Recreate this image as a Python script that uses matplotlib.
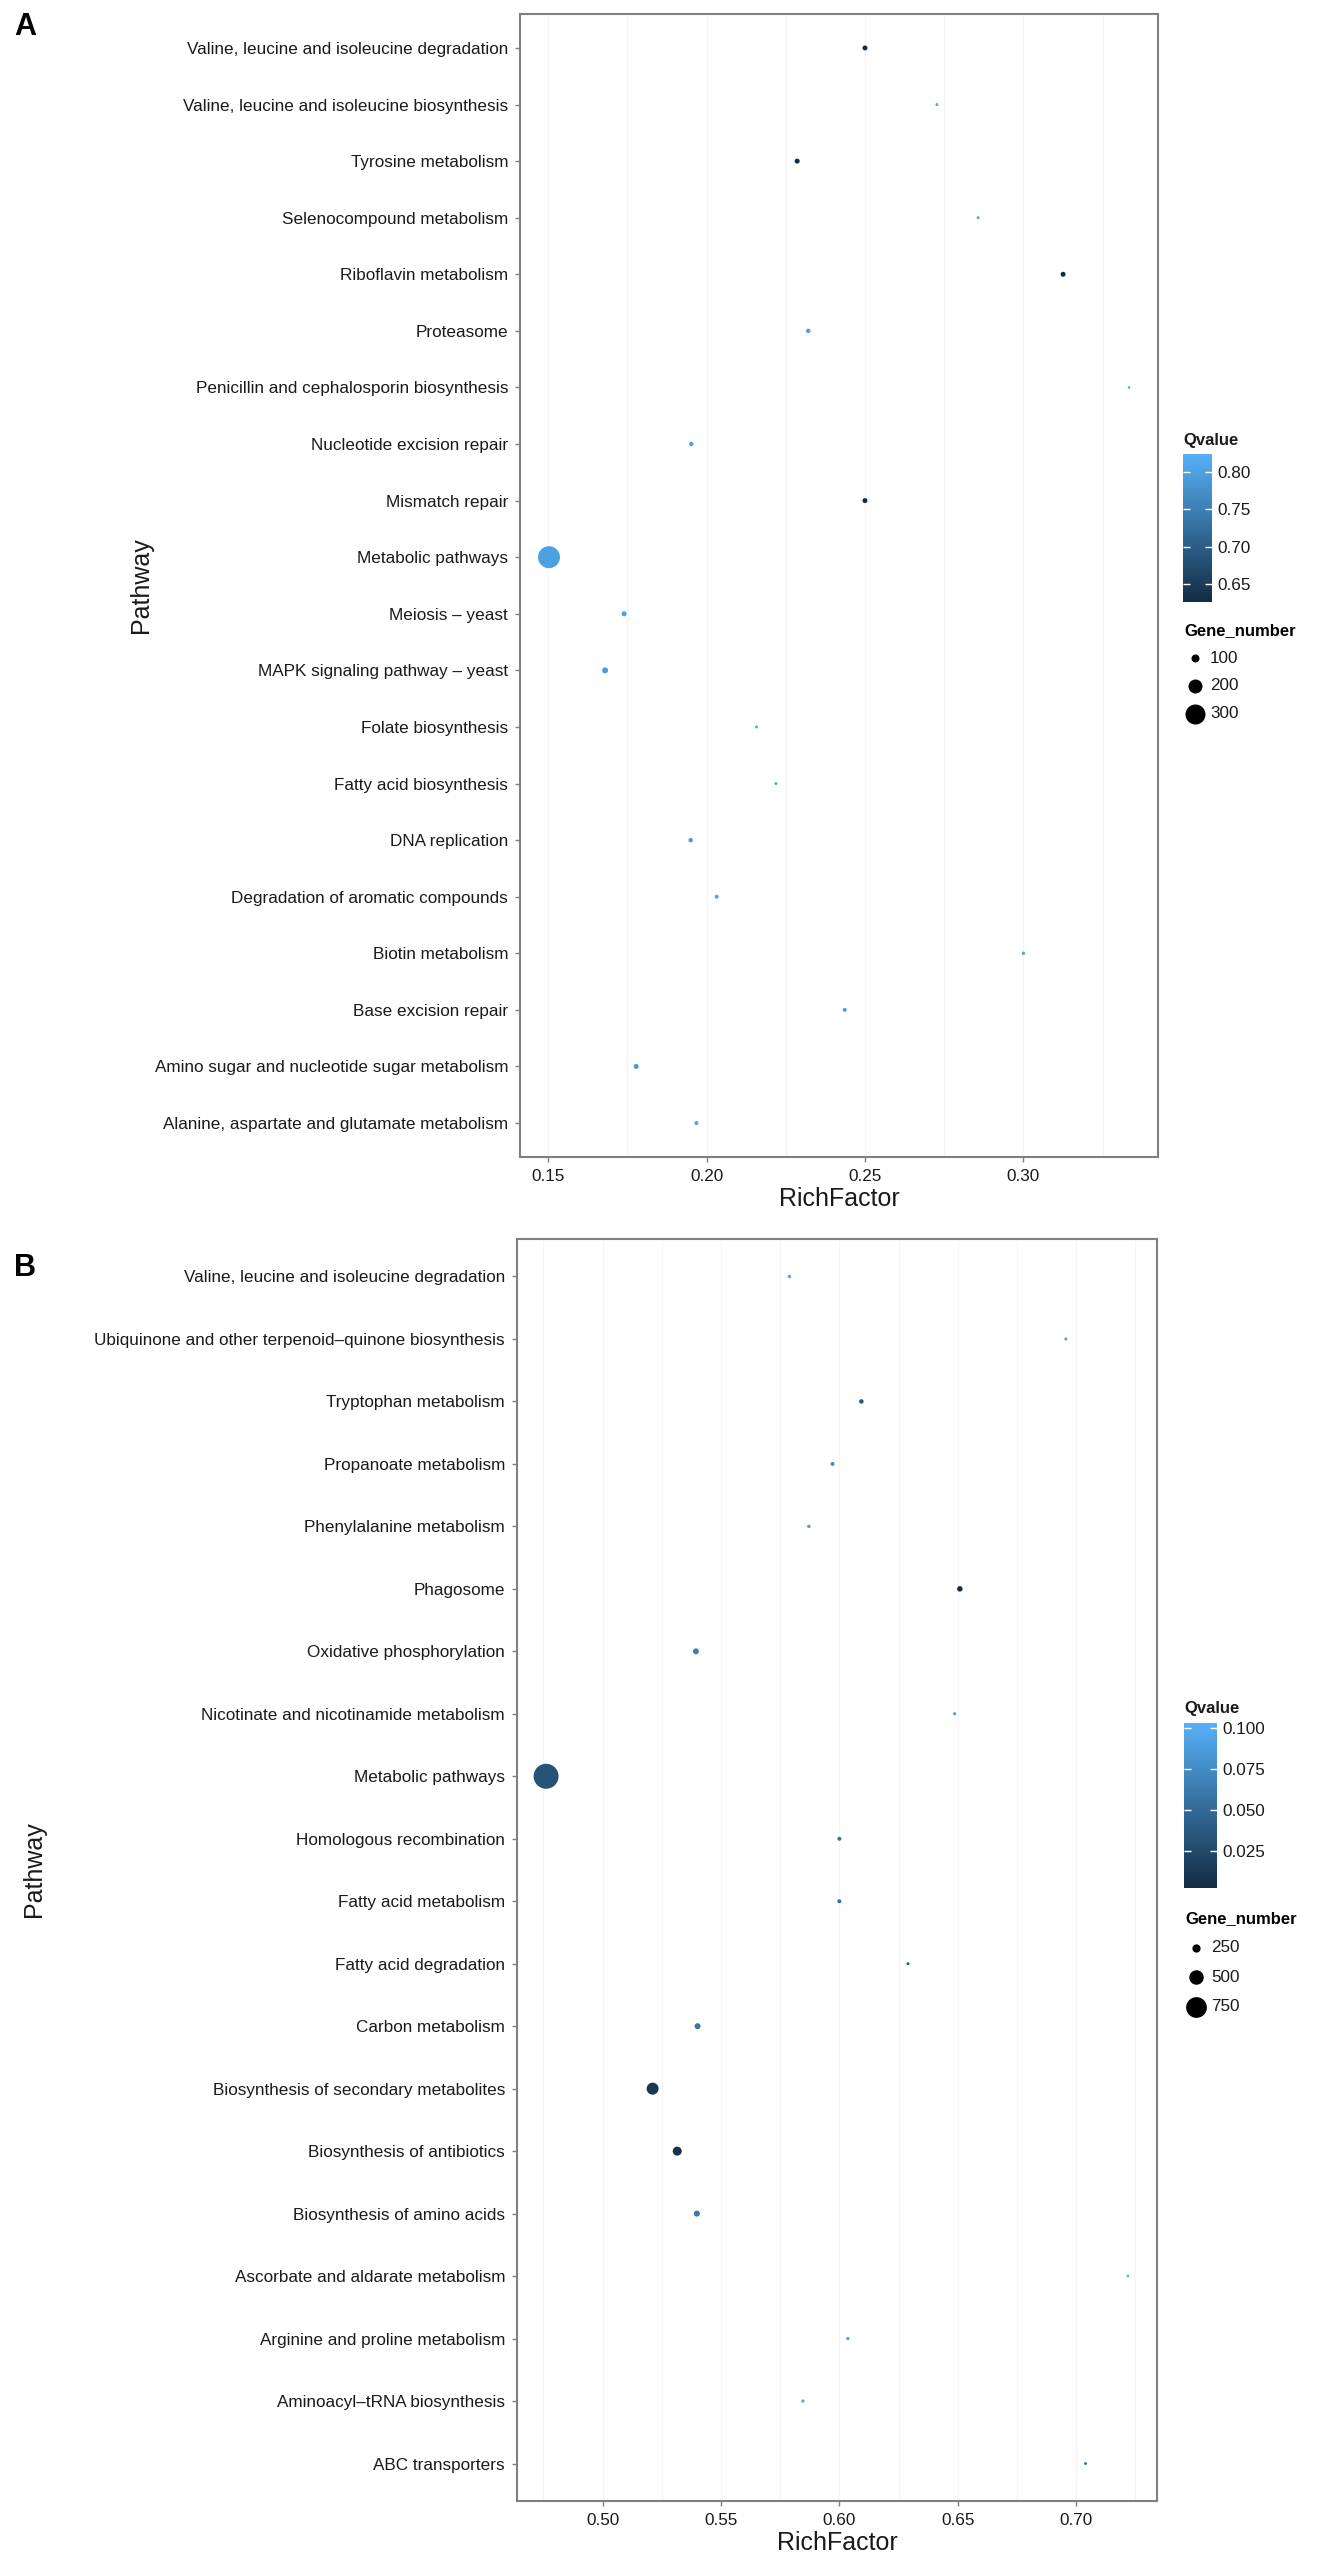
import matplotlib
matplotlib.use('Agg')
import matplotlib.pyplot as plt
from matplotlib.colors import LinearSegmentedColormap
from matplotlib.ticker import MultipleLocator
import numpy as np

plt.rcParams['font.family'] = ['Liberation Sans', 'DejaVu Sans']

# ---- panel A data (top to bottom) ----
path_a = ['Valine, leucine and isoleucine degradation',
          'Valine, leucine and isoleucine biosynthesis',
          'Tyrosine metabolism',
          'Selenocompound metabolism',
          'Riboflavin metabolism',
          'Proteasome',
          'Penicillin and cephalosporin biosynthesis',
          'Nucleotide excision repair',
          'Mismatch repair',
          'Metabolic pathways',
          'Meiosis \u2013 yeast',
          'MAPK signaling pathway \u2013 yeast',
          'Folate biosynthesis',
          'Fatty acid biosynthesis',
          'DNA replication',
          'Degradation of aromatic compounds',
          'Biotin metabolism',
          'Base excision repair',
          'Amino sugar and nucleotide sugar metabolism',
          'Alanine, aspartate and glutamate metabolism']
rich_a = [0.250, 0.2727, 0.2286, 0.2857, 0.3125, 0.2321, 0.3333, 0.1952, 0.250, 0.1503,
          0.174, 0.168, 0.2158, 0.2219, 0.195, 0.2032, 0.300, 0.2436, 0.1778, 0.1968]
q_a = [0.6254, 0.815, 0.6254, 0.815, 0.6254, 0.805, 0.8246, 0.80, 0.6254, 0.80,
       0.80, 0.795, 0.81, 0.81, 0.80, 0.805, 0.815, 0.80, 0.79, 0.805]
gene_a = [50, 17, 50, 17, 50, 42, 12, 42, 50, 333,
          50, 67, 17, 17, 42, 33, 25, 33, 50, 33]

# ---- panel B data (top to bottom) ----
path_b = ['Valine, leucine and isoleucine degradation',
          'Ubiquinone and other terpenoid\u2013quinone biosynthesis',
          'Tryptophan metabolism',
          'Propanoate metabolism',
          'Phenylalanine metabolism',
          'Phagosome',
          'Oxidative phosphorylation',
          'Nicotinate and nicotinamide metabolism',
          'Metabolic pathways',
          'Homologous recombination',
          'Fatty acid metabolism',
          'Fatty acid degradation',
          'Carbon metabolism',
          'Biosynthesis of secondary metabolites',
          'Biosynthesis of antibiotics',
          'Biosynthesis of amino acids',
          'Ascorbate and aldarate metabolism',
          'Arginine and proline metabolism',
          'Aminoacyl\u2013tRNA biosynthesis',
          'ABC transporters']
rich_b = [0.5789, 0.6957, 0.6093, 0.5971, 0.5871, 0.6509, 0.5394, 0.6487, 0.4761, 0.600,
          0.600, 0.629, 0.5401, 0.5211, 0.5315, 0.5398, 0.7219, 0.6036, 0.5846, 0.704]
q_b = [0.095, 0.090, 0.035, 0.075, 0.090, 0.0026, 0.065, 0.090, 0.033, 0.055,
       0.055, 0.040, 0.060, 0.012, 0.008, 0.060, 0.1031, 0.090, 0.095, 0.060]
gene_b = [60, 40, 100, 80, 60, 140, 160, 50, 920, 80,
          80, 40, 160, 400, 280, 160, 28, 50, 50, 40]

breaks_a = [100, 200, 300]
breaks_b = [250, 500, 750]
qticks_a = [0.65, 0.70, 0.75, 0.80]
qticks_b = [0.025, 0.050, 0.075, 0.100]
qlabels_b = ['0.025', '0.050', '0.075', '0.100']

W, H, DPI = 1327, 2570, 100
cmap = LinearSegmentedColormap.from_list('gg', ['#132B43', '#56B1F7'])
txt = '#1a1a1a'
fs = 12.3


def size_a(g):
    return (0.72 * (2 + 0.06 * np.asarray(g, float))) ** 2


def size_b(g):
    return (0.72 * (2 + 0.025 * np.asarray(g, float))) ** 2


def px(l, t, r, b):
    return [l / W, 1 - b / H, (r - l) / W, (b - t) / H]


def panel(fig, rect, paths, rich, q, gene, sizef, xmaj):
    ax = fig.add_axes(rect)
    n = len(paths)
    y = np.arange(n)
    sc = ax.scatter(rich, y, s=sizef(gene), c=q, cmap=cmap, zorder=3, linewidths=0)
    ax.set_yticks(y)
    ax.set_yticklabels(paths, fontsize=fs, color=txt)
    ax.set_ylim(n - 0.4, -0.6)
    lo, hi = min(rich), max(rich)
    pad = (hi - lo) * 0.05
    ax.set_xlim(lo - pad, hi + pad)
    ax.xaxis.set_major_locator(MultipleLocator(xmaj))
    ax.xaxis.set_minor_locator(MultipleLocator(xmaj / 2))
    ax.tick_params(axis='x', which='minor', length=0)
    ax.tick_params(axis='both', which='major', length=3.6, width=1, color='#808080',
                   labelsize=fs, labelcolor=txt, pad=5)
    ax.grid(True, axis='x', which='both', color='#f5f5f5', lw=1, zorder=0)
    for s in ax.spines.values():
        s.set_color('#808080')
        s.set_linewidth(1.5)
    ax.set_xlabel('RichFactor', fontsize=18, color=txt, labelpad=2)
    return ax, sc


def legends(fig, ax, sc, cbrect, qticks, qlabels, qtitle_y, breaks, sizef, leg_top, spacing):
    cax = fig.add_axes(cbrect)
    cb = fig.colorbar(sc, cax=cax)
    cb.outline.set_visible(False)
    cb.set_ticks(qticks)
    cb.set_ticklabels(qlabels)
    cax.tick_params(direction='in', length=5, width=1, color='white', labelsize=fs,
                    labelcolor=txt, left=True, right=True, pad=4)
    fig.text(cbrect[0], qtitle_y, 'Qvalue', fontsize=12, fontweight='bold', color=txt, va='center')
    handles = [ax.scatter([], [], s=sizef(b), c='black', linewidths=0) for b in breaks]
    leg = ax.legend(handles, [str(b) for b in breaks], title='Gene_number',
                    loc='upper left', bbox_to_anchor=(cbrect[0] - 0.004, leg_top),
                    bbox_transform=fig.transFigure, frameon=False, fontsize=fs,
                    title_fontproperties={'weight': 'bold', 'size': 12},
                    alignment='left', handletextpad=0.3, labelspacing=spacing,
                    borderaxespad=0, handlelength=1.2)
    for t in leg.get_texts():
        t.set_color(txt)


fig = plt.figure(figsize=(W / DPI, H / DPI), dpi=DPI)
fig.patch.set_facecolor('white')

axA, scA = panel(fig, px(520, 14, 1158, 1157), path_a, rich_a, q_a, gene_a, size_a, 0.05)
axB, scB = panel(fig, px(517, 1239, 1157, 2501), path_b, rich_b, q_b, gene_b, size_b, 0.05)

legends(fig, axA, scA, px(1183, 454, 1212, 602), qticks_a, ['0.65', '0.70', '0.75', '0.80'],
        1 - 440 / H, breaks_a, size_a, 1 - 616 / H, 0.75)
legends(fig, axB, scB, px(1184, 1723, 1217, 1888), qticks_b, qlabels_b,
        1 - 1709 / H, breaks_b, size_b, 1 - 1904 / H, 0.85)

fig.text(141 / W, 1 - 585 / H, 'Pathway', rotation=90, fontsize=18, color=txt, ha='center', va='center')
fig.text(34 / W, 1 - 1869 / H, 'Pathway', rotation=90, fontsize=18, color=txt, ha='center', va='center')
fig.text(25 / W, 1 - 27 / H, 'A', fontsize=22, fontweight='bold', ha='center', va='center')
fig.text(25 / W, 1 - 1268 / H, 'B', fontsize=22, fontweight='bold', ha='center', va='center')

fig.savefig('out.png', dpi=DPI)
